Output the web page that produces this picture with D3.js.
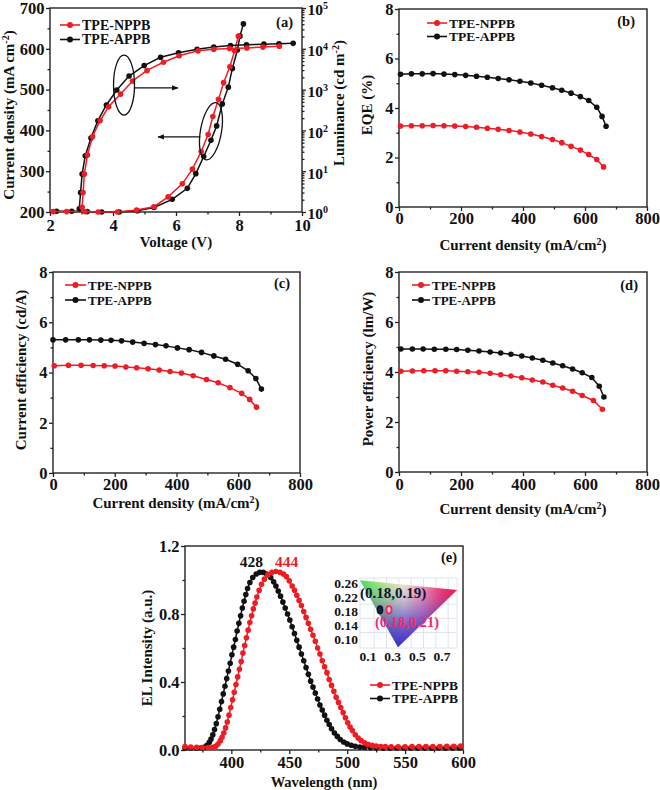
<!DOCTYPE html>
<html><head><meta charset="utf-8">
<script src="https://cdn.jsdelivr.net/npm/d3@7"></script>
<style>
html,body{margin:0;padding:0;background:#fff;}
svg{display:block;}
</style></head><body>
<svg id="chart" width="660" height="790"></svg>
<script>
// ---------------- DATA ----------------
const seriesNames = ["TPE-NPPB", "TPE-APPB"];

// (a) J-V-L
const jvV_NPPB = [2.1, 2.53, 3.11, 3.53, 4.14, 4.75, 5.3, 5.75, 6.2, 6.52, 6.8, 7.02, 7.17, 7.35, 7.51, 7.71, 7.86, 7.98];
const jvJ_NPPB = [201, 201, 201, 200, 200, 205, 213, 237, 269, 305, 348, 390, 434, 476, 517, 556, 595, 631];
const jvV_APPB = [2.21, 2.69, 3.18, 3.64, 4.2, 4.77, 5.3, 5.88, 6.36, 6.63, 6.88, 7.11, 7.29, 7.47, 7.66, 7.79, 7.95, 8.03, 8.14];
const jvJ_APPB = [202, 202, 201, 200, 200, 203, 211, 231, 258, 294, 336, 376, 411, 465, 506, 552, 597, 631, 661];
const lvV_NPPB = [3.02, 3.05, 3.09, 3.19, 3.35, 3.59, 3.86, 4.24, 4.62, 5.08, 5.6, 6.1, 6.7, 7.2, 7.7, 8.25, 8.76, 9.28];
const lvL_NPPB = [1.3, 3, 8.5, 25, 71, 174, 380, 776, 1620, 2950, 4680, 6760, 8910, 9770, 10200, 10500, 11000, 11500];
const lvV_APPB = [2.93, 2.97, 3.02, 3.12, 3.30, 3.52, 3.79, 4.12, 4.51, 4.99, 5.51, 6.08, 6.67, 7.2, 7.73, 8.24, 8.79, 9.27, 9.72];
const lvL_APPB = [1.2, 3, 8.5, 24, 65, 173, 420, 980, 2150, 3870, 6200, 8000, 9700, 11000, 12000, 12600, 13000, 13300, 13600];

// (b) EQE
const eqeJ_NPPB = [5, 40, 75, 110, 145, 180, 215, 250, 285, 320, 355, 390, 425, 460, 495, 525, 555, 585, 612, 638, 660];
const eqe_NPPB = [3.27, 3.28, 3.28, 3.29, 3.28, 3.27, 3.25, 3.22, 3.18, 3.14, 3.09, 3.03, 2.95, 2.85, 2.73, 2.60, 2.45, 2.30, 2.12, 1.92, 1.62];
const eqeJ_APPB = [5, 40, 75, 110, 145, 180, 215, 250, 285, 320, 355, 390, 425, 460, 495, 525, 555, 585, 612, 638, 655, 668];
const eqe_APPB = [5.36, 5.38, 5.38, 5.39, 5.37, 5.35, 5.32, 5.28, 5.24, 5.19, 5.14, 5.08, 5.01, 4.92, 4.82, 4.72, 4.60, 4.46, 4.30, 4.03, 3.66, 3.26];

// (c) current efficiency
const ceJ_NPPB = [4, 50, 91, 130, 166, 201, 236, 271, 308, 344, 379, 416, 454, 497, 535, 573, 611, 637, 659];
const ce_NPPB = [4.27, 4.29, 4.29, 4.28, 4.27, 4.26, 4.22, 4.19, 4.15, 4.10, 4.04, 3.98, 3.87, 3.72, 3.59, 3.40, 3.17, 2.93, 2.62];
const ceJ_APPB = [0, 41, 82, 118, 155, 188, 222, 258, 295, 332, 366, 403, 441, 481, 521, 559, 598, 632, 657, 675];
const ce_APPB = [5.30, 5.30, 5.30, 5.30, 5.29, 5.28, 5.26, 5.21, 5.16, 5.11, 5.06, 4.98, 4.91, 4.80, 4.66, 4.53, 4.33, 4.07, 3.76, 3.34];

// (d) power efficiency
const peJ_NPPB = [6, 43, 80, 116, 151, 186, 222, 258, 294, 328, 361, 396, 430, 464, 496, 528, 560, 591, 627, 656];
const pe_NPPB = [4.03, 4.04, 4.05, 4.05, 4.05, 4.03, 4.01, 3.99, 3.95, 3.89, 3.84, 3.77, 3.68, 3.60, 3.47, 3.36, 3.23, 3.06, 2.86, 2.51];
const peJ_APPB = [6, 43, 78, 114, 151, 186, 222, 258, 294, 328, 361, 396, 430, 464, 496, 528, 560, 591, 622, 646, 661];
const pe_APPB = [4.92, 4.92, 4.92, 4.91, 4.91, 4.90, 4.87, 4.84, 4.80, 4.76, 4.71, 4.64, 4.56, 4.47, 4.36, 4.25, 4.12, 3.97, 3.78, 3.43, 3.00];

// (e) EL spectra
const elWl_NPPB = [360, 365, 370, 375, 380, 384, 386.5, 388.5, 390.5, 392, 393.5, 395, 396.5, 398, 399.5, 401, 402.5, 404, 405.5, 407, 408.5, 410, 411.5, 413, 414.5, 416, 417.5, 419, 420.5, 422, 424, 426, 428.5, 431.5, 435, 438.5, 442, 445, 447.5, 450, 452.5, 454.5, 456.5, 458.5, 460.5, 462.5, 464.5, 466.5, 468.5, 470.5, 472.5, 474.5, 476.5, 478.5, 480.5, 482.5, 484.5, 486.5, 488.5, 490.5, 492.5, 494.5, 496.5, 498.5, 500.5, 502.5, 504.5, 507, 509.5, 512, 515, 518, 521.5, 525, 529, 533, 538, 544, 550, 556, 562, 568, 574, 580, 586, 592, 598];
const elI_NPPB = [0.020, 0.018, 0.016, 0.015, 0.015, 0.016, 0.022, 0.035, 0.055, 0.075, 0.10, 0.13, 0.165, 0.205, 0.25, 0.295, 0.34, 0.385, 0.43, 0.475, 0.52, 0.57, 0.615, 0.66, 0.705, 0.75, 0.79, 0.83, 0.865, 0.90, 0.94, 0.975, 1.005, 1.03, 1.045, 1.05, 1.045, 1.035, 1.02, 0.995, 0.965, 0.94, 0.91, 0.88, 0.85, 0.815, 0.78, 0.745, 0.71, 0.675, 0.64, 0.60, 0.565, 0.525, 0.49, 0.455, 0.415, 0.38, 0.345, 0.31, 0.28, 0.25, 0.22, 0.19, 0.16, 0.135, 0.115, 0.09, 0.07, 0.055, 0.042, 0.033, 0.027, 0.023, 0.021, 0.020, 0.019, 0.019, 0.019, 0.020, 0.020, 0.020, 0.021, 0.021, 0.022, 0.022, 0.023];
const elWl_APPB = [360, 365, 370, 374, 377, 379, 381, 382.5, 384, 385.5, 387, 388.5, 390, 391.5, 393, 394.5, 396, 397.5, 399, 400.5, 402, 403.5, 405, 406.5, 408, 409.5, 411, 412.5, 414, 416, 418.5, 421.5, 424.5, 427.5, 430.5, 434, 436.5, 438.5, 440.5, 442.5, 444.5, 446.5, 448.5, 450.5, 452.5, 454.5, 456.5, 458.5, 460.5, 462.5, 464.5, 466.5, 468.5, 470.5, 472.5, 474.5, 476.5, 478.5, 480.5, 482.5, 484.5, 486.5, 489, 491.5, 494, 497, 500, 503.5, 507, 511, 515, 520, 525, 531, 537, 543, 549, 555, 561, 567, 573, 579, 585, 591, 597];
const elI_APPB = [0.012, 0.012, 0.012, 0.013, 0.018, 0.028, 0.045, 0.065, 0.09, 0.12, 0.155, 0.195, 0.24, 0.285, 0.33, 0.375, 0.42, 0.465, 0.51, 0.56, 0.605, 0.65, 0.70, 0.745, 0.79, 0.835, 0.875, 0.915, 0.95, 0.985, 1.015, 1.035, 1.045, 1.045, 1.035, 1.015, 0.99, 0.965, 0.935, 0.905, 0.87, 0.835, 0.80, 0.765, 0.725, 0.685, 0.645, 0.605, 0.565, 0.525, 0.485, 0.445, 0.405, 0.37, 0.335, 0.30, 0.265, 0.235, 0.205, 0.175, 0.15, 0.125, 0.10, 0.08, 0.062, 0.047, 0.036, 0.028, 0.022, 0.018, 0.016, 0.014, 0.013, 0.012, 0.012, 0.012, 0.012, 0.012, 0.012, 0.012, 0.012, 0.012, 0.012, 0.012, 0.012];
const peakLabels = ["444", "428"];

// (e) inset CIE
const gamutX = [0.035, 0.822, 0.343];
const gamutY = [0.268, 0.240, 0.078];
const cieX = [0.27, 0.197];
const cieY = [0.184, 0.184];
const cieLabels = ["(0.18,0.21)", "(0.18,0.19)"];
const insetXTicks = [0.1, 0.3, 0.5, 0.7];
const insetYTicks = [0.10, 0.14, 0.18, 0.22, 0.26];

// ---------------- DRAWING ----------------
const FONT = "'Liberation Serif','Times New Roman',serif";
const RED = "#ee1c25", BLK = "#111111";
const TICKFS = 16.5;
const colors = [RED, BLK];
const svg = d3.select("#chart");
const defs = svg.append("defs");
defs.append("marker").attr("id", "arr").attr("viewBox", "0 0 10 10")
  .attr("refX", 9).attr("refY", 5).attr("markerWidth", 5).attr("markerHeight", 5)
  .attr("orient", "auto").append("path").attr("d", "M0,1 L10,5 L0,9 Z").attr("fill", "#111");

function styleAxis(sel, fs) {
  sel.select(".domain").remove();
  sel.selectAll(".tick line").attr("stroke", "#222").attr("stroke-width", 1.3);
  sel.selectAll(".tick text").attr("font-family", FONT).attr("font-weight", "bold")
    .attr("font-size", fs || TICKFS).attr("fill", "#111");
}
function txt(g, x, y, s, opt = {}) {
  const t = g.append("text").attr("x", x).attr("y", y).attr("font-family", FONT)
    .attr("font-weight", "bold").attr("font-size", opt.fs || 15).attr("fill", opt.fill || "#111")
    .attr("text-anchor", opt.anchor || "start").text(s);
  if (opt.rot) t.attr("transform", `rotate(-90,${x},${y})`).attr("dy", "0.35em");
  return t;
}
function sup(t, s, tail) {
  t.append("tspan").attr("dy", -5).attr("font-size", 10).text(s);
  t.append("tspan").attr("dy", 5).text(tail);
}
function drawSeries(g, xs, ys, x, y, color) {
  const pts = xs.map((v, i) => [x(v), y(ys[i])]);
  g.append("path").attr("d", d3.line()(pts)).attr("fill", "none")
    .attr("stroke", color).attr("stroke-width", 1.5);
  g.selectAll(null).data(pts).join("circle").attr("cx", d => d[0]).attr("cy", d => d[1])
    .attr("r", 2.8).attr("fill", color);
}
function legend(g, x1, x2, y0, dy, fs) {
  seriesNames.forEach((name, i) => {
    const yy = y0 + i * dy;
    g.append("line").attr("x1", x1).attr("x2", x2).attr("y1", yy).attr("y2", yy)
      .attr("stroke", colors[i]).attr("stroke-width", 1.6);
    g.append("circle").attr("cx", (x1 + x2) / 2).attr("cy", yy).attr("r", 3).attr("fill", colors[i]);
    txt(g, x2 + 2, yy + 4.5, name, { fs: fs || 13.5 });
  });
}
function panel(o) {
  const g = svg.append("g");
  const x = d3.scaleLinear().domain(o.xDomain).range([o.left, o.right]);
  const y = d3.scaleLinear().domain(o.yDomain).range([o.bottom, o.top]);
  const bx = g.append("g").attr("transform", `translate(0,${o.bottom})`)
    .call(d3.axisBottom(x).tickValues(o.xTicks).tickSizeInner(4).tickSizeOuter(0)
      .tickPadding(o.xPad ?? 2).tickFormat(o.xFmt || d3.format("d")));
  styleAxis(bx);
  const bxm = g.append("g").attr("transform", `translate(0,${o.bottom})`)
    .call(d3.axisBottom(x).tickValues(o.xMinor).tickSizeInner(2.5).tickSizeOuter(0).tickFormat(""));
  styleAxis(bxm);
  const ly = g.append("g").attr("transform", `translate(${o.left},0)`)
    .call(d3.axisLeft(y).tickValues(o.yTicks).tickSizeInner(4).tickSizeOuter(0)
      .tickPadding(1.5).tickFormat(o.yFmt || d3.format("d")));
  styleAxis(ly);
  const lym = g.append("g").attr("transform", `translate(${o.left},0)`)
    .call(d3.axisLeft(y).tickValues(o.yMinor).tickSizeInner(2.5).tickSizeOuter(0).tickFormat(""));
  styleAxis(lym);
  g.append("rect").attr("x", o.left).attr("y", o.top).attr("width", o.right - o.left)
    .attr("height", o.bottom - o.top).attr("fill", "none").attr("stroke", "#222").attr("stroke-width", 1.4);
  return { g, x, y };
}

// ===== (a) =====
{
  const o = { left: 50, right: 302, top: 8, bottom: 212, xDomain: [2, 10], yDomain: [200, 700],
    xTicks: [2, 4, 6, 8, 10], xMinor: [3, 5, 7, 9], yTicks: [200, 300, 400, 500, 600, 700],
    yMinor: [250, 350, 450, 550, 650], xPad: 3 };
  const { g, x, y } = panel(o);
  const yR = d3.scaleLog().domain([1, 1e5]).range([o.bottom, o.top]);
  const ra = g.append("g").attr("transform", `translate(${o.right},0)`)
    .call(d3.axisRight(yR).tickValues([1, 10, 100, 1e3, 1e4, 1e5]).tickSizeInner(4).tickSizeOuter(0).tickPadding(1.5).tickFormat(""));
  styleAxis(ra, 15.5);
  ra.selectAll(".tick text").each(function (d) {
    const t = d3.select(this).attr("dy", "0.45em");
    t.text("10");
    t.append("tspan").attr("dy", -6).attr("font-size", 10).text(Math.round(Math.log10(d)));
  });
  const minorLog = [];
  for (let k = 0; k < 5; k++) for (let m = 2; m <= 9; m++) minorLog.push(m * Math.pow(10, k));
  const ram = g.append("g").attr("transform", `translate(${o.right},0)`)
    .call(d3.axisRight(yR).tickValues(minorLog).tickSizeInner(2.5).tickSizeOuter(0).tickFormat(""));
  styleAxis(ram);

  drawSeries(g, jvV_APPB, jvJ_APPB, x, y, BLK);
  drawSeries(g, jvV_NPPB, jvJ_NPPB, x, y, RED);
  drawSeries(g, lvV_APPB, lvL_APPB, x, yR, BLK);
  drawSeries(g, lvV_NPPB, lvL_NPPB, x, yR, RED);

  // annotations: ellipses and arrows
  g.append("ellipse").attr("cx", x(4.35)).attr("cy", y(511)).attr("rx", 10.5).attr("ry", 30)
    .attr("fill", "none").attr("stroke", "#111").attr("stroke-width", 1.3);
  g.append("line").attr("x1", x(4.68)).attr("y1", y(504)).attr("x2", x(6.06)).attr("y2", y(504))
    .attr("stroke", "#111").attr("stroke-width", 1.3).attr("marker-end", "url(#arr)");
  g.append("ellipse").attr("cx", 0).attr("cy", 0).attr("rx", 10.5).attr("ry", 29)
    .attr("transform", `translate(${x(7.11)},${y(398)}) rotate(10)`)
    .attr("fill", "none").attr("stroke", "#111").attr("stroke-width", 1.3);
  g.append("line").attr("x1", x(6.77)).attr("y1", y(384)).attr("x2", x(5.43)).attr("y2", y(384))
    .attr("stroke", "#111").attr("stroke-width", 1.3).attr("marker-end", "url(#arr)");

  legend(g, 60, 80, 25, 14.5, 14);
  txt(g, 293, 27, "(a)", { anchor: "end", fs: 14.5 });
  sup(txt(g, 9, 115, "Current density (mA cm", { rot: true, anchor: "middle" }), "-2", ")");
  sup(txt(g, 339, 103, "Luminance (cd m", { rot: true, anchor: "middle" }), "-2", ")");
  txt(g, 176, 247, "Voltage (V)", { anchor: "middle" });
}

// ===== (b) =====
{
  const o = { left: 399, right: 647, top: 9, bottom: 207, xDomain: [0, 800], yDomain: [0, 8],
    xTicks: [0, 200, 400, 600, 800], xMinor: [100, 300, 500, 700], yTicks: [0, 2, 4, 6, 8], yMinor: [1, 3, 5, 7], xPad: 1 };
  const { g, x, y } = panel(o);
  drawSeries(g, eqeJ_APPB, eqe_APPB, x, y, BLK);
  drawSeries(g, eqeJ_NPPB, eqe_NPPB, x, y, RED);
  legend(g, 427, 447, 23, 13.5, 13.5);
  txt(g, 635, 26, "(b)", { anchor: "end", fs: 14.5 });
  txt(g, 367, 105, "EQE (%)", { rot: true, anchor: "middle" });
  sup(txt(g, 523, 250, "Current density (mA/cm", { anchor: "middle" }), "2", ")");
}

// ===== (c) =====
{
  const o = { left: 53, right: 300, top: 272, bottom: 473, xDomain: [0, 800], yDomain: [0, 8],
    xTicks: [0, 200, 400, 600, 800], xMinor: [100, 300, 500, 700], yTicks: [0, 2, 4, 6, 8], yMinor: [1, 3, 5, 7], xPad: 1 };
  const { g, x, y } = panel(o);
  drawSeries(g, ceJ_APPB, ce_APPB, x, y, BLK);
  drawSeries(g, ceJ_NPPB, ce_NPPB, x, y, RED);
  legend(g, 65, 86, 285, 15, 13);
  txt(g, 290, 288, "(c)", { anchor: "end", fs: 14.5 });
  txt(g, 21, 370, "Current efficiency (cd/A)", { rot: true, anchor: "middle" });
  sup(txt(g, 176, 508, "Current density (mA/cm", { anchor: "middle" }), "2", ")");
}

// ===== (d) =====
{
  const o = { left: 399, right: 647, top: 272, bottom: 472, xDomain: [0, 800], yDomain: [0, 8],
    xTicks: [0, 200, 400, 600, 800], xMinor: [100, 300, 500, 700], yTicks: [0, 2, 4, 6, 8], yMinor: [1, 3, 5, 7], xPad: 2 };
  const { g, x, y } = panel(o);
  drawSeries(g, peJ_APPB, pe_APPB, x, y, BLK);
  drawSeries(g, peJ_NPPB, pe_NPPB, x, y, RED);
  legend(g, 412, 430, 285, 15, 13);
  txt(g, 638, 290, "(d)", { anchor: "end", fs: 14.5 });
  txt(g, 368, 369, "Power efficiency (lm/W)", { rot: true, anchor: "middle" });
  sup(txt(g, 523, 514, "Current density (mA/cm", { anchor: "middle" }), "2", ")");
}

// ===== (e) =====
{
  const o = { left: 185, right: 463, top: 546, bottom: 750, xDomain: [360, 600], yDomain: [0, 1.2],
    xTicks: [400, 450, 500, 550, 600], xMinor: [375, 425, 475, 525, 575], yTicks: [0, 0.4, 0.8, 1.2],
    yMinor: [0.2, 0.6, 1.0], xPad: 2, yFmt: d3.format(".1f") };
  const { g, x, y } = panel(o);
  drawSeries(g, elWl_APPB, elI_APPB, x, y, BLK);
  drawSeries(g, elWl_NPPB, elI_NPPB, x, y, RED);
  txt(g, x(427.4), y(1.078), peakLabels[1], { anchor: "end", fill: BLK, fs: 15.5 });
  txt(g, x(437.7), y(1.078), peakLabels[0], { anchor: "start", fill: RED, fs: 15.5 });
  legend(g, 370, 390, 685, 13.5, 13.5);
  txt(g, 457, 562, "(e)", { anchor: "end", fs: 14.5 });
  txt(g, 147, 648, "EL Intensity (a.u.)", { rot: true, anchor: "middle" });
  txt(g, 324, 787, "Wavelength (nm)", { anchor: "middle", fs: 14.5 });

  // inset
  const ix = d3.scaleLinear().domain([0.1, 0.7]).range([368, 442]);
  const iy = d3.scaleLinear().domain([0.10, 0.26]).range([639.5, 583]);
  const ins = g.append("g");
  const gx0 = ix(0.035), gx1 = ix(0.822), gy0 = iy(0.2742), gy1 = iy(0.0758);
  ins.append("rect").attr("x", gx0).attr("y", gy0).attr("width", gx1 - gx0).attr("height", gy1 - gy0)
    .attr("fill", "#fff").attr("stroke", "#dfe3ec").attr("stroke-width", 1);
  [0.15, 0.25, 0.35, 0.45, 0.55, 0.65, 0.75].forEach(v => ins.append("line")
    .attr("x1", ix(v)).attr("x2", ix(v)).attr("y1", gy0).attr("y2", gy1).attr("stroke", "#dfe3ec"));
  [0.12, 0.16, 0.20, 0.24].forEach(v => ins.append("line")
    .attr("x1", gx0).attr("x2", gx1).attr("y1", iy(v)).attr("y2", iy(v)).attr("stroke", "#dfe3ec"));

  const gh = defs.append("linearGradient").attr("id", "gh").attr("gradientUnits", "userSpaceOnUse")
    .attr("x1", ix(0.035)).attr("x2", ix(0.822)).attr("y1", 0).attr("y2", 0);
  [[0, "#49e05a"], [0.25, "#b6ee8a"], [0.45, "#f6ecd4"], [0.65, "#ff9ab0"], [0.85, "#ff3a6a"], [1, "#ff1a40"]]
    .forEach(s => gh.append("stop").attr("offset", s[0]).attr("stop-color", s[1]));
  const gv = defs.append("linearGradient").attr("id", "gv").attr("gradientUnits", "userSpaceOnUse")
    .attr("x1", 0).attr("x2", 0).attr("y1", iy(0.268)).attr("y2", iy(0.078));
  [[0, 0], [0.3, 0.25], [0.65, 0.7], [1, 1]]
    .forEach(s => gv.append("stop").attr("offset", s[0]).attr("stop-color", "#3a2cc4").attr("stop-opacity", s[1]));
  const tri = gamutX.map((v, i) => [ix(v), iy(gamutY[i])]);
  const triPath = "M" + tri.map(p => p.join(",")).join("L") + "Z";
  ins.append("path").attr("d", triPath).attr("fill", "url(#gh)");
  ins.append("path").attr("d", triPath).attr("fill", "url(#gv)");

  insetYTicks.forEach(v => txt(ins, gx0 - 2, iy(v) + 4.5, v.toFixed(2), { anchor: "end", fs: 13.5 }));
  insetXTicks.forEach(v => txt(ins, ix(v), 661, v.toFixed(1), { anchor: "middle", fs: 13.5 }));

  // CIE points
  ins.append("ellipse").attr("cx", ix(cieX[1])).attr("cy", iy(cieY[1])).attr("rx", 2.6).attr("ry", 3.8)
    .attr("fill", "#223").attr("stroke", "#0a0f30").attr("stroke-width", 1.5);
  ins.append("ellipse").attr("cx", ix(cieX[0])).attr("cy", iy(cieY[0])).attr("rx", 2.6).attr("ry", 3.8)
    .attr("fill", "#f6c6d6").attr("stroke", "#f0285a").attr("stroke-width", 1.8);
  txt(ins, 360, 598, cieLabels[1], { fs: 15, fill: "#0d1533" });
  txt(ins, 375, 627, cieLabels[0], { fs: 14.5, fill: "#f0286e" });
}
</script>
</body></html>
